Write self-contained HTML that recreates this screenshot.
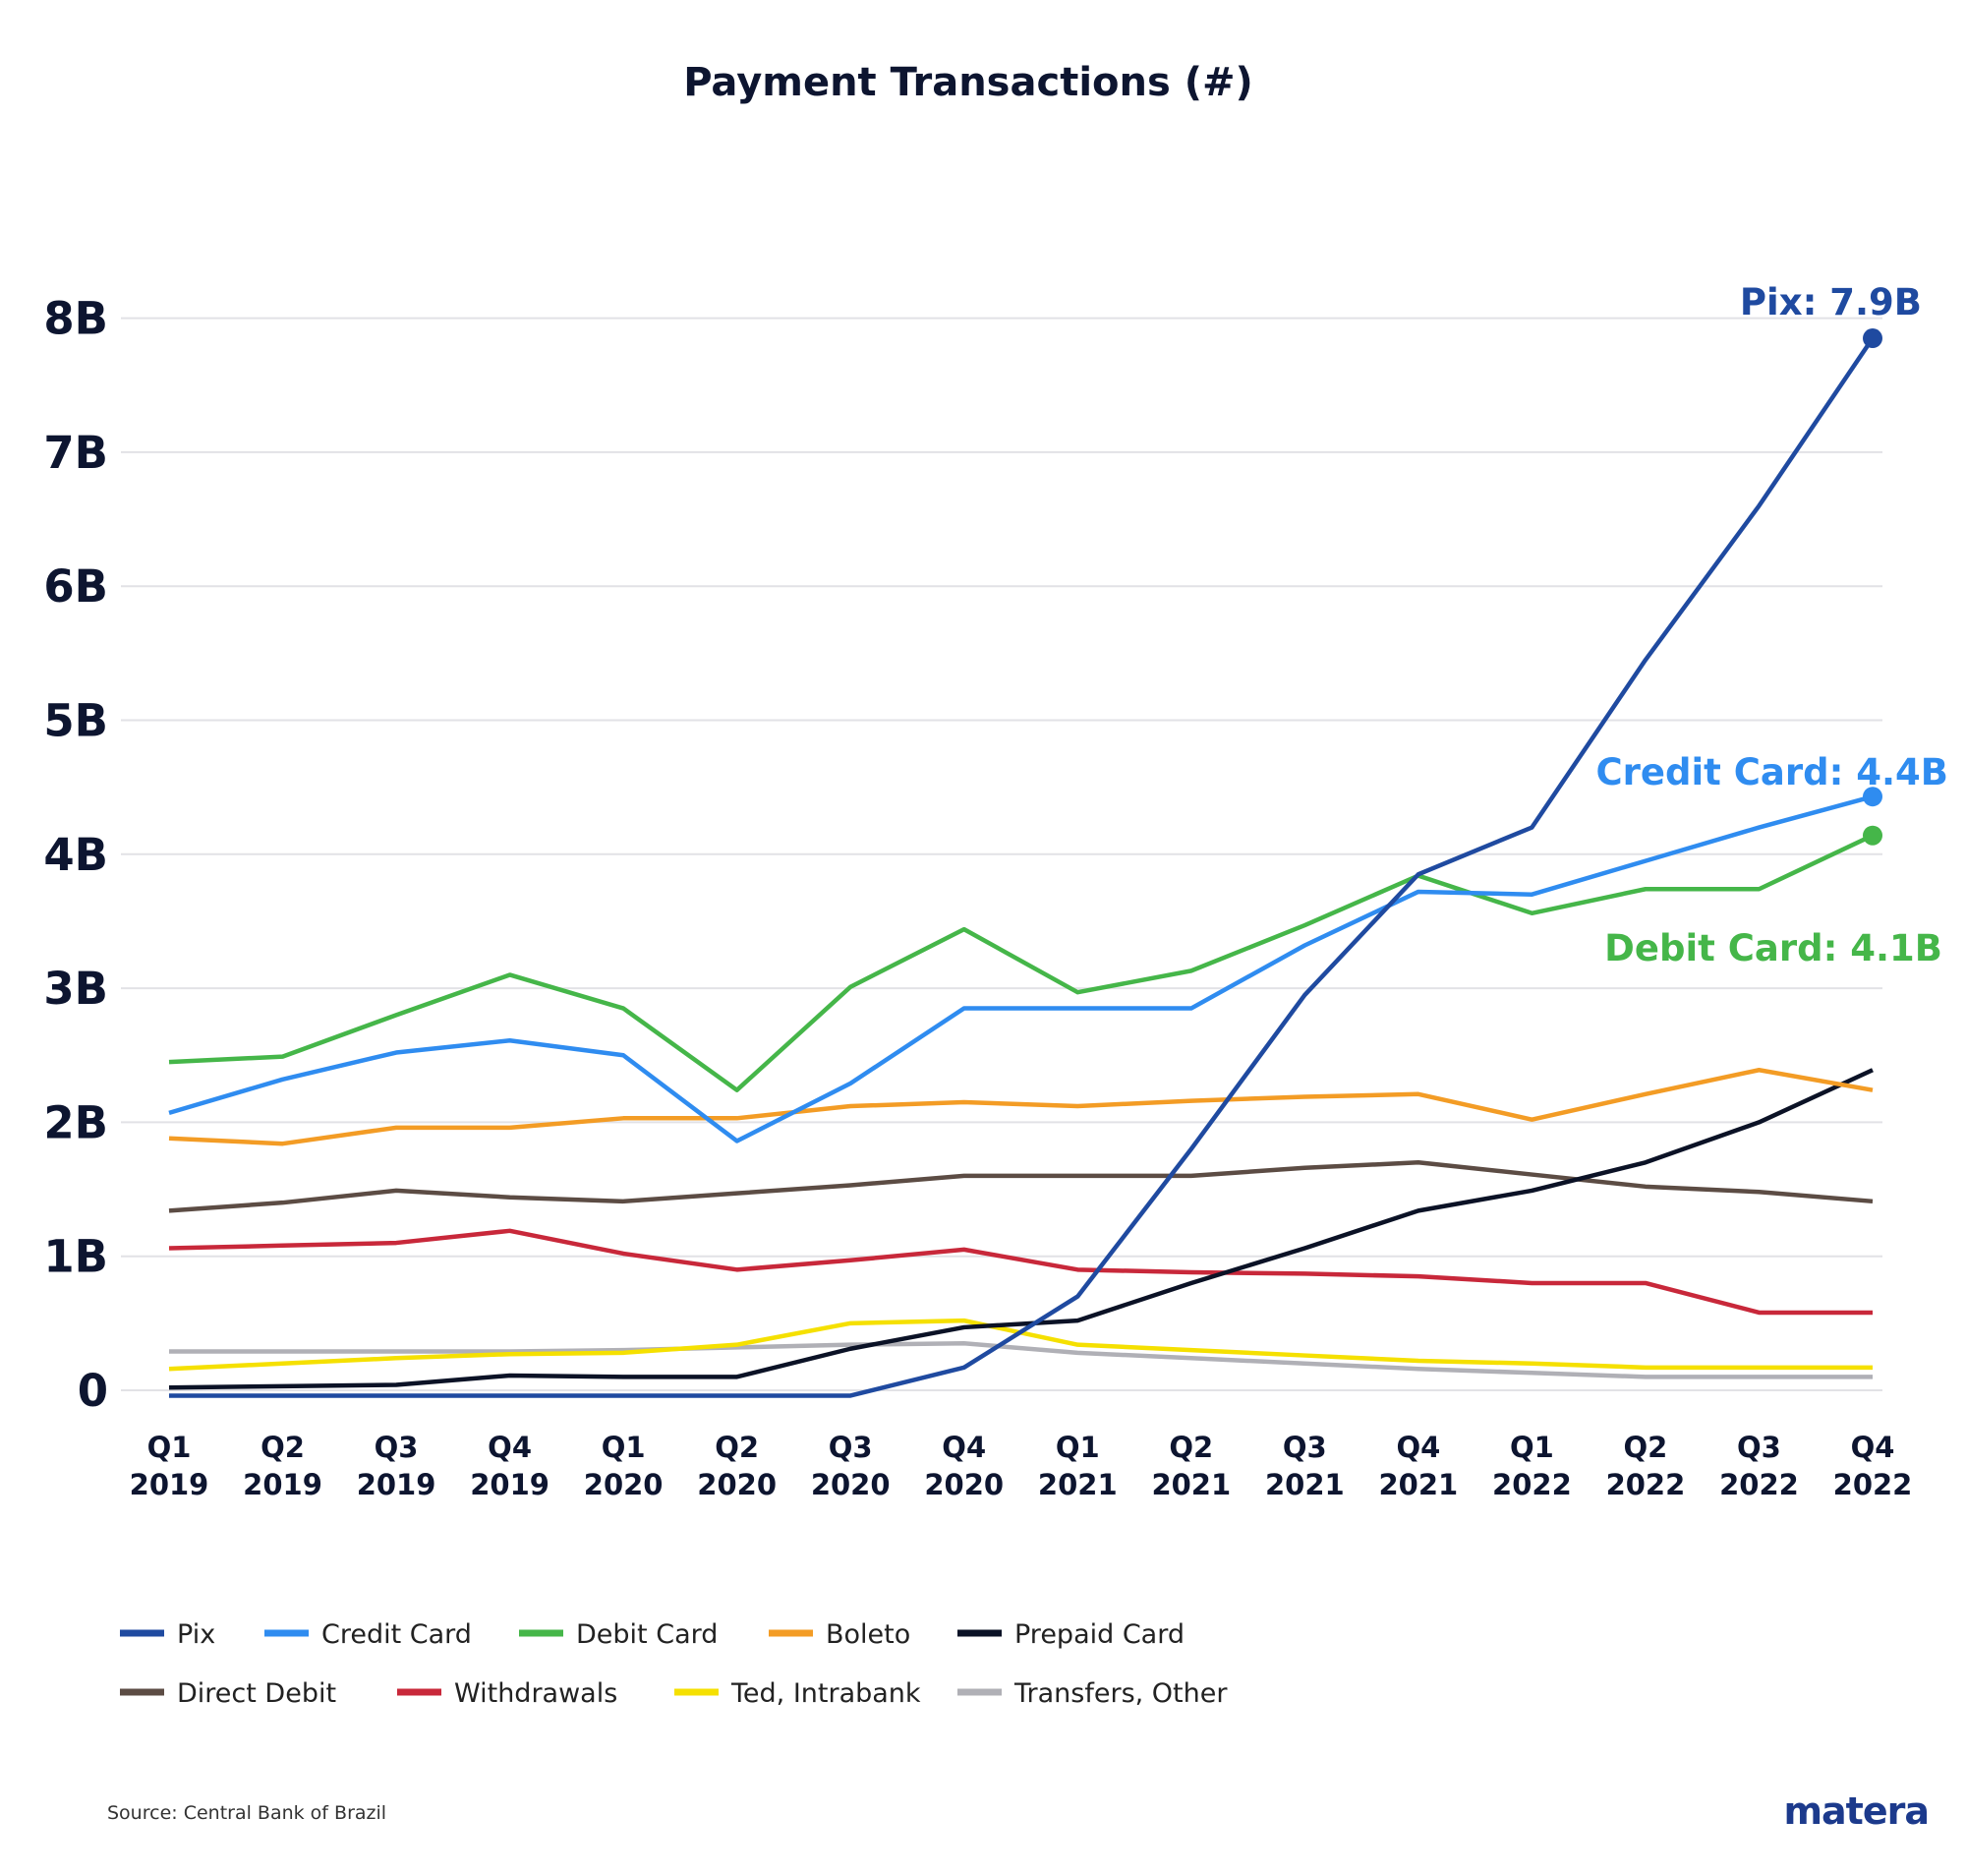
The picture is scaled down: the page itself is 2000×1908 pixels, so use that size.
<!DOCTYPE html>
<html><head><meta charset="utf-8"><style>
html,body{margin:0;padding:0;background:#fff;}
svg{display:block;font-family:"DejaVu Sans","Liberation Sans",sans-serif;}
</style></head><body>
<svg id="chart" width="2000" height="1908" viewBox="0 0 2000 1908" xmlns="http://www.w3.org/2000/svg">
<rect width="2000" height="1908" fill="#fff"/>
<text x="985" y="97" text-anchor="middle" font-size="40" font-weight="bold" fill="#0d1530">Payment Transactions (#)</text>
<g id="grid"></g>
<g id="ylabels"></g>
<g id="xlabels"></g>
<g id="lines"></g>
<g id="annots"></g>
<g id="legend"></g>
<text x="109" y="1850" font-size="19" fill="#333">Source: Central Bank of Brazil</text>
<text x="1962" y="1855" text-anchor="end" font-size="38" font-weight="bold" fill="#1c3a8c" letter-spacing="-1">matera</text>
</svg>
<script>
const quarters = ["Q1","Q2","Q3","Q4","Q1","Q2","Q3","Q4","Q1","Q2","Q3","Q4","Q1","Q2","Q3","Q4"];
const years = ["2019","2019","2019","2019","2020","2020","2020","2020","2021","2021","2021","2021","2022","2022","2022","2022"];
const yTicks = [0,1,2,3,4,5,6,7,8];
const yTickLabels = ["0","1B","2B","3B","4B","5B","6B","7B","8B"];
const pix = [-0.04,-0.04,-0.04,-0.04,-0.04,-0.04,-0.04,0.17,0.7,1.8,2.95,3.85,4.2,5.45,6.6,7.85];
const creditCard = [2.07,2.32,2.52,2.61,2.5,1.86,2.29,2.85,2.85,2.85,3.32,3.72,3.7,3.95,4.2,4.43];
const debitCard = [2.45,2.49,2.8,3.1,2.85,2.24,3.01,3.44,2.97,3.13,3.47,3.84,3.56,3.74,3.74,4.14];
const boleto = [1.88,1.84,1.96,1.96,2.03,2.03,2.12,2.15,2.12,2.16,2.19,2.21,2.02,2.21,2.39,2.24];
const prepaidCard = [0.02,0.03,0.04,0.11,0.1,0.1,0.31,0.47,0.52,0.8,1.06,1.34,1.49,1.7,2.0,2.39];
const directDebit = [1.34,1.4,1.49,1.44,1.41,1.47,1.53,1.6,1.6,1.6,1.66,1.7,1.61,1.52,1.48,1.41];
const withdrawals = [1.06,1.08,1.1,1.19,1.02,0.9,0.97,1.05,0.9,0.88,0.87,0.85,0.8,0.8,0.58,0.58];
const tedIntrabank = [0.16,0.2,0.24,0.27,0.28,0.34,0.5,0.52,0.34,0.3,0.26,0.22,0.2,0.17,0.17,0.17];
const transfersOther = [0.29,0.29,0.29,0.29,0.3,0.32,0.34,0.35,0.28,0.24,0.2,0.16,0.13,0.1,0.1,0.1];

const NS="http://www.w3.org/2000/svg";
const x0=172, x1=1905, yZero=1414, yPer=136.3;
function xs(i){return x0+(x1-x0)*i/(quarters.length-1);}
function ys(v){return yZero-v*yPer;}
function mk(tag,attrs,parent){const e=document.createElementNS(NS,tag);for(const k in attrs)e.setAttribute(k,attrs[k]);parent.appendChild(e);return e;}

const grid=document.getElementById('grid'), yl=document.getElementById('ylabels');
yTicks.forEach((t,i)=>{
  const l=mk('line',{x1:123,x2:1915,y1:ys(t),y2:ys(t),stroke:'#e2e2e6','stroke-width':2},grid);
  
  
  const tx=mk('text',{x:110,y:ys(t)+16,'text-anchor':'end','font-size':45,'font-weight':'bold',fill:'#0d1530'},yl);
  tx.textContent=yTickLabels[i];
  
  
});
const xl=document.getElementById('xlabels');
quarters.forEach((q,i)=>{
  const t=mk('text',{x:xs(i),'text-anchor':'middle','font-size':29,'font-weight':'bold',fill:'#0d1530'},xl);
  
  
  const a=mk('tspan',{x:xs(i),y:1482},t);a.textContent=q;
  const b=mk('tspan',{x:xs(i),y:1520},t);b.textContent=years[i];
});
const series=[
 ["transfers-other",transfersOther,"#b0b0b6"],
 ["ted-intrabank",tedIntrabank,"#f5e000"],
 ["withdrawals",withdrawals,"#c8283a"],
 ["direct-debit",directDebit,"#5c4c44"],
 ["prepaid-card",prepaidCard,"#0b1226"],
 ["boleto",boleto,"#f39c25"],
 ["debit-card",debitCard,"#45b649"],
 ["credit-card",creditCard,"#2f8cf0"],
 ["pix",pix,"#1f4aa0"]
];
const lg=document.getElementById('lines');
series.forEach(s=>{
  const p=mk('polyline',{points:s[1].map((v,i)=>xs(i)+','+ys(v)).join(' '),fill:'none',stroke:s[2],'stroke-width':4.5,'stroke-linejoin':'round'},lg);
  
  
});
const an=document.getElementById('annots');
const ends=[["pix",pix,"#1f4aa0","Pix: 7.9B",1955,320],["credit-card",creditCard,"#2f8cf0","Credit Card: 4.4B",1982,798],["debit-card",debitCard,"#45b649","Debit Card: 4.1B",1976,977]];
ends.forEach(e=>{
  const n=pix.length-1;
  const c=mk('circle',{cx:xs(n),cy:ys(e[1][n]),r:10,fill:e[2]},an);
  
  
  const t=mk('text',{x:e[4],y:e[5],'text-anchor':'end','font-size':37,'font-weight':'bold',fill:e[2]},an);
  t.textContent=e[3];
  
  
});
const legendItems=[
 ["Pix","#1f4aa0",122,1669],["Credit Card","#2f8cf0",269,1669],["Debit Card","#45b649",528,1669],["Boleto","#f39c25",782,1669],["Prepaid Card","#0b1226",974,1669],
 ["Direct Debit","#5c4c44",122,1729],["Withdrawals","#c8283a",404,1729],["Ted, Intrabank","#f5e000",686,1729],["Transfers, Other","#b0b0b6",974,1729]
];
const leg=document.getElementById('legend');
legendItems.forEach(it=>{
  const g=mk('g',{},leg);
  
  
  mk('line',{x1:it[2],x2:it[2]+45,y1:it[3]-8,y2:it[3]-8,stroke:it[1],'stroke-width':7},g);
  const t=mk('text',{x:it[2]+58,y:it[3]+2,'font-size':27,fill:'#222'},g);
  t.textContent=it[0];
});
</script>
</body></html>
